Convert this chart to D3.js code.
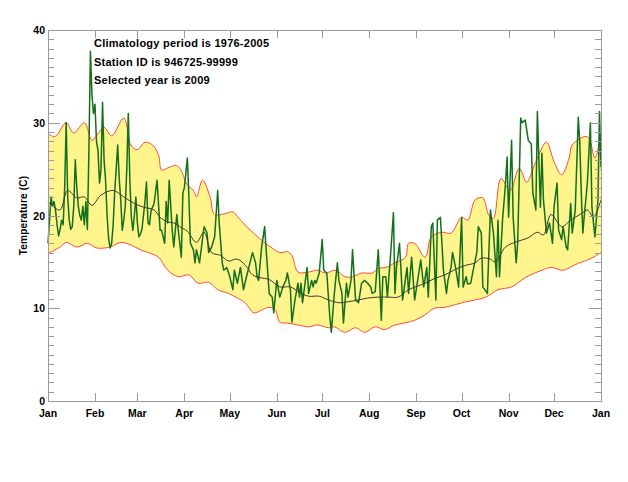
<!DOCTYPE html>
<html>
<head>
<meta charset="utf-8">
<script src="https://cdnjs.cloudflare.com/ajax/libs/d3/7.8.5/d3.min.js"></script>
<style>
  body { margin: 0; background: #fff; }
  text { font-family: "Liberation Sans", Arial, sans-serif; font-weight: bold; }
</style>
</head>
<body>
<script>
'use strict';

// month tick labels (tick at day of year where the month starts)
var monthNames = ['Jan', 'Feb', 'Mar', 'Apr', 'May', 'Jun', 'Jul', 'Aug', 'Sep', 'Oct', 'Nov', 'Dec', 'Jan'];
var monthStarts = [0, 31, 59, 90, 120, 151, 181, 212, 243, 273, 304, 334, 365];

var yTicks = [0, 10, 20, 30, 40];

var infoLines = [
    'Climatology period is 1976-2005',
    'Station ID is 946725-99999',
    'Selected year is 2009'
];

// climatology upper envelope [day, degC]
var upperBand = [
    [0, 28.8], [4, 28.5], [6, 28.7], [12, 30.0], [17, 28.9], [24, 30.0], [29, 28.1], [32, 28.6],
    [37, 29.5], [42, 28.6], [50, 30.5], [55, 27.5], [59, 27.1], [64, 27.9], [69, 27.6], [73, 26.5],
    [75, 24.9], [80, 25.2], [84, 25.4], [87, 25.1], [92, 23.3], [96, 22.7], [98, 22.0], [102, 23.8],
    [107, 22.0], [110, 20.1], [117, 20.2], [122, 20.4], [125, 19.9], [130, 19.0], [137, 17.9],
    [142, 17.2], [147, 16.6], [153, 16.0], [158, 16.1], [161, 15.7], [165, 13.9], [172, 13.9],
    [178, 14.1], [183, 13.8], [190, 14.1], [196, 13.4], [201, 13.4], [207, 13.8], [214, 13.8],
    [218, 14.3], [223, 14.4], [229, 14.9], [236, 15.5], [238, 17.0], [242, 17.0], [249, 15.5],
    [253, 17.7], [260, 18.2], [266, 18.1], [273, 19.8], [277, 19.5], [282, 21.7], [287, 21.9],
    [291, 20.0], [294, 19.7], [299, 24.0], [305, 22.7], [311, 25.1], [316, 23.6], [321, 25.4],
    [329, 27.9], [334, 25.8], [339, 24.4], [344, 26.2], [346, 27.6], [356, 28.5], [361, 26.2],
    [365, 29.0]
];

// climatology lower envelope [day, degC]
var lowerBand = [
    [0, 15.9], [8, 16.6], [12, 17.1], [19, 16.6], [26, 17.0], [32, 16.5], [41, 16.6], [48, 17.1],
    [55, 16.8], [61, 16.3], [68, 15.9], [73, 15.5], [79, 14.1], [86, 13.4], [93, 13.6], [99, 12.7],
    [106, 12.8], [112, 12.0], [119, 11.6], [125, 11.1], [130, 10.6], [136, 9.5], [141, 9.8],
    [146, 10.1], [150, 9.8], [153, 8.5], [158, 8.4], [165, 8.2], [172, 8.0], [178, 8.2], [185, 7.9],
    [189, 8.0], [196, 7.4], [203, 7.9], [209, 7.4], [216, 8.0], [222, 7.7], [229, 8.2], [235, 8.4],
    [242, 8.7], [249, 9.3], [255, 10.0], [262, 10.1], [269, 10.4], [276, 10.7], [282, 10.9],
    [289, 11.2], [297, 12.0], [306, 12.3], [315, 13.3], [326, 14.1], [332, 14.4], [340, 14.1],
    [348, 14.7], [356, 15.2], [361, 15.6], [365, 16.0]
];

// climatology mean [day, degC]
var meanClim = [
    [0, 21.5], [4, 20.9], [8, 20.6], [13, 22.7], [19, 21.9], [24, 22.0], [29, 21.1], [35, 22.2],
    [43, 22.7], [50, 22.0], [57, 21.3], [63, 20.9], [70, 20.6], [74, 19.8], [79, 19.3], [83, 19.2],
    [88, 18.7], [92, 18.3], [98, 17.1], [103, 18.2], [108, 16.0], [114, 15.7], [119, 15.1],
    [125, 15.3], [131, 14.5], [135, 13.6], [140, 13.3], [146, 13.1], [153, 12.3], [160, 12.3],
    [166, 11.7], [172, 11.3], [179, 11.3], [185, 10.9], [192, 10.6], [198, 10.7], [205, 10.9],
    [211, 11.1], [218, 11.2], [225, 11.2], [231, 11.2], [238, 12.0], [244, 12.4], [249, 12.7],
    [255, 13.2], [262, 13.6], [269, 14.2], [275, 14.6], [282, 14.9], [286, 15.4], [292, 15.3],
    [295, 15.0], [302, 16.6], [308, 17.1], [317, 17.6], [323, 18.2], [327, 17.9], [332, 20.1],
    [339, 18.8], [345, 19.5], [352, 20.2], [356, 20.6], [360, 19.8], [365, 21.7]
];

// selected year 2009, daily mean [day, degC]
var year2009 = [
    [0, 17.0], [1, 19.5], [2, 22.0], [3, 21.0], [4, 21.5], [5, 20.5], [6, 19.0], [7, 17.8],
    [8, 18.5], [9, 19.5], [10, 19.0], [11, 23.0], [12, 30.0], [13, 22.0], [14, 19.5], [15, 18.5],
    [16, 18.8], [17, 21.0], [18, 26.0], [19, 23.0], [20, 21.0], [21, 20.0], [22, 19.5], [23, 21.0],
    [24, 19.0], [25, 21.5], [26, 18.5], [27, 27.0], [28, 37.7], [29, 33.0], [30, 31.0], [31, 32.0],
    [32, 28.0], [33, 27.0], [34, 23.5], [35, 25.0], [36, 32.2], [37, 26.0], [38, 23.8], [39, 20.0],
    [40, 17.5], [41, 16.5], [42, 17.0], [43, 19.0], [44, 22.5], [45, 25.0], [46, 27.6], [47, 24.0],
    [48, 21.7], [49, 18.4], [50, 19.5], [51, 21.0], [52, 25.0], [53, 31.0], [54, 24.0], [55, 19.8],
    [56, 18.4], [57, 20.0], [58, 22.0], [59, 19.2], [60, 17.7], [61, 18.0], [62, 18.5], [63, 20.0],
    [64, 21.5], [65, 23.6], [66, 19.2], [67, 19.0], [68, 20.5], [70, 21.3], [72, 23.8], [74, 18.4],
    [75, 18.4], [77, 17.0], [78, 21.5], [79, 19.2], [80, 23.8], [82, 18.4], [83, 16.6], [85, 20.1],
    [86, 18.4], [88, 15.5], [89, 22.4], [90, 23.0], [92, 26.2], [93, 22.0], [94, 17.0], [96, 16.3],
    [97, 14.9], [98, 16.3], [100, 14.9], [103, 18.8], [105, 18.1], [106, 16.0], [108, 16.6],
    [110, 17.7], [112, 22.7], [113, 19.2], [115, 14.9], [116, 14.1], [118, 14.4], [120, 13.4],
    [122, 12.0], [123, 14.1], [125, 12.7], [127, 14.4], [129, 12.0], [131, 13.4], [135, 16.0],
    [137, 14.9], [138, 13.4], [139, 13.0], [141, 16.6], [143, 18.8], [144, 16.3], [146, 11.6],
    [148, 11.2], [149, 9.5], [151, 13.0], [153, 11.2], [155, 12.3], [157, 13.0], [158, 13.8],
    [160, 12.0], [161, 8.5], [163, 10.9], [165, 12.7], [166, 11.2], [167, 12.7], [168, 10.6],
    [171, 14.4], [172, 11.6], [174, 13.0], [175, 12.3], [176, 13.0], [177, 12.7], [179, 13.8],
    [181, 17.4], [182, 14.1], [184, 13.8], [186, 9.1], [187, 7.4], [189, 11.6], [191, 14.9],
    [192, 13.0], [194, 11.6], [195, 8.4], [197, 12.7], [198, 11.2], [200, 13.0], [201, 16.3],
    [203, 10.9], [205, 10.6], [207, 12.7], [209, 13.0], [211, 12.7], [213, 12.3], [214, 11.6],
    [216, 11.8], [218, 16.3], [220, 8.7], [221, 13.4], [223, 13.4], [224, 11.2], [226, 15.5],
    [228, 20.3], [229, 11.6], [230, 14.4], [232, 17.0], [233, 14.1], [234, 10.9], [237, 14.4],
    [238, 11.6], [240, 15.5], [242, 10.9], [244, 13.0], [246, 15.2], [248, 12.3], [250, 14.4],
    [251, 11.2], [253, 18.8], [254, 19.2], [256, 10.9], [257, 19.5], [259, 19.8], [260, 17.0],
    [261, 14.1], [263, 11.6], [264, 13.0], [266, 14.4], [267, 16.0], [269, 14.4], [271, 12.3],
    [273, 19.8], [274, 12.3], [276, 13.4], [277, 12.6], [279, 12.7], [281, 14.4], [283, 16.0],
    [284, 18.8], [286, 18.1], [287, 12.3], [290, 11.6], [292, 20.6], [294, 18.1], [296, 13.4],
    [297, 19.5], [298, 13.4], [300, 19.5], [302, 23.5], [303, 26.3], [304, 19.8], [306, 28.1],
    [307, 19.8], [309, 14.9], [310, 17.0], [312, 30.5], [313, 30.0], [315, 30.3], [317, 28.1],
    [318, 27.9], [319, 27.7], [320, 22.4], [322, 20.6], [323, 31.2], [325, 20.9], [326, 26.7],
    [327, 21.7], [329, 18.1], [331, 19.2], [333, 17.0], [334, 20.9], [336, 23.5], [337, 18.4],
    [339, 17.4], [340, 18.8], [342, 16.6], [343, 16.3], [345, 21.3], [346, 18.1], [348, 20.6],
    [350, 30.6], [351, 27.8], [352, 22.4], [353, 18.1], [354, 20.0], [356, 23.5], [358, 30.0],
    [359, 20.9], [361, 17.7], [363, 21.7], [364, 31.2], [365, 25.2]
];

var width = 628;
var height = 482;
var plotLeft = 48, plotRight = 601, plotTop = 30, plotBottom = 401;

var svg = d3.select('body')
    .append('svg')
    .attr('width', width)
    .attr('height', height);

var x = d3.scaleLinear().domain([0, 365]).range([plotLeft, plotRight]);
var y = d3.scaleLinear().domain([0, 40]).range([plotBottom, plotTop]);

var smooth = d3.line()
    .x(function (d) { return x(d[0]); })
    .y(function (d) { return y(d[1]); })
    .curve(d3.curveCatmullRom.alpha(0.5));

var straight = d3.line()
    .x(function (d) { return x(d[0]); })
    .y(function (d) { return y(d[1]); });

// yellow band between envelopes
var bandPath = smooth(upperBand) + 'L' + smooth(lowerBand.slice().reverse()).slice(1) + 'Z';
svg.append('path')
    .attr('d', bandPath)
    .attr('fill', '#fff58c')
    .attr('stroke', 'none');

svg.append('path')
    .attr('d', smooth(upperBand))
    .attr('fill', 'none')
    .attr('stroke', '#ff4a3a')
    .attr('stroke-width', 1);

svg.append('path')
    .attr('d', smooth(lowerBand))
    .attr('fill', 'none')
    .attr('stroke', '#ff4a3a')
    .attr('stroke-width', 1);

svg.append('path')
    .attr('d', straight(year2009))
    .attr('fill', 'none')
    .attr('stroke', '#12701a')
    .attr('stroke-width', 1.5)
    .attr('stroke-linejoin', 'round');

svg.append('path')
    .attr('d', smooth(meanClim))
    .attr('fill', 'none')
    .attr('stroke', '#3a3a2a')
    .attr('stroke-width', 1);

// frame + ticks
var axisColor = '#9a9a9a';
var frame = svg.append('g')
    .attr('stroke', axisColor)
    .attr('stroke-width', 1)
    .attr('shape-rendering', 'crispEdges');

frame.append('rect')
    .attr('x', plotLeft).attr('y', plotTop)
    .attr('width', plotRight - plotLeft).attr('height', plotBottom - plotTop)
    .attr('fill', 'none');

var yMinor = d3.range(0, 41, 1);
frame.selectAll('.ytl').data(yMinor).enter().append('line')
    .attr('x1', plotLeft).attr('x2', function (d) { return plotLeft + (d % 10 === 0 ? 12 : 6); })
    .attr('y1', function (d) { return Math.round(y(d)) + 0.5; })
    .attr('y2', function (d) { return Math.round(y(d)) + 0.5; });
frame.selectAll('.ytr').data(yMinor).enter().append('line')
    .attr('x1', plotRight).attr('x2', function (d) { return plotRight - (d % 10 === 0 ? 12 : 6); })
    .attr('y1', function (d) { return Math.round(y(d)) + 0.5; })
    .attr('y2', function (d) { return Math.round(y(d)) + 0.5; });

frame.selectAll('.xtb').data(monthStarts).enter().append('line')
    .attr('x1', function (d) { return Math.round(x(d)) + 0.5; })
    .attr('x2', function (d) { return Math.round(x(d)) + 0.5; })
    .attr('y1', plotBottom).attr('y2', plotBottom - 8);
frame.selectAll('.xtt').data(monthStarts).enter().append('line')
    .attr('x1', function (d) { return Math.round(x(d)) + 0.5; })
    .attr('x2', function (d) { return Math.round(x(d)) + 0.5; })
    .attr('y1', plotTop).attr('y2', plotTop + 8);

// tick labels
svg.selectAll('.ylab').data(yTicks).enter().append('text')
    .attr('x', plotLeft - 3)
    .attr('y', function (d) { return y(d) + 4; })
    .attr('text-anchor', 'end')
    .attr('font-size', '10.5px')
    .text(function (d) { return d; });

svg.selectAll('.xlab').data(monthStarts).enter().append('text')
    .attr('x', function (d) { return x(d); })
    .attr('y', 417)
    .attr('text-anchor', 'middle')
    .attr('font-size', '10.5px')
    .text(function (d, i) { return monthNames[i]; });

svg.append('text')
    .attr('transform', 'translate(27,' + ((plotTop + plotBottom) / 2) + ') rotate(-90)')
    .attr('text-anchor', 'middle')
    .attr('font-size', '10px')
    .attr('letter-spacing', '0.2px')
    .text('Temperature (C)');

svg.selectAll('.info').data(infoLines).enter().append('text')
    .attr('x', 94)
    .attr('y', function (d, i) { return 47 + i * 18.7; })
    .attr('font-size', '11px')
    .attr('letter-spacing', '0.25px')
    .text(function (d) { return d; });
</script>
</body>
</html>
